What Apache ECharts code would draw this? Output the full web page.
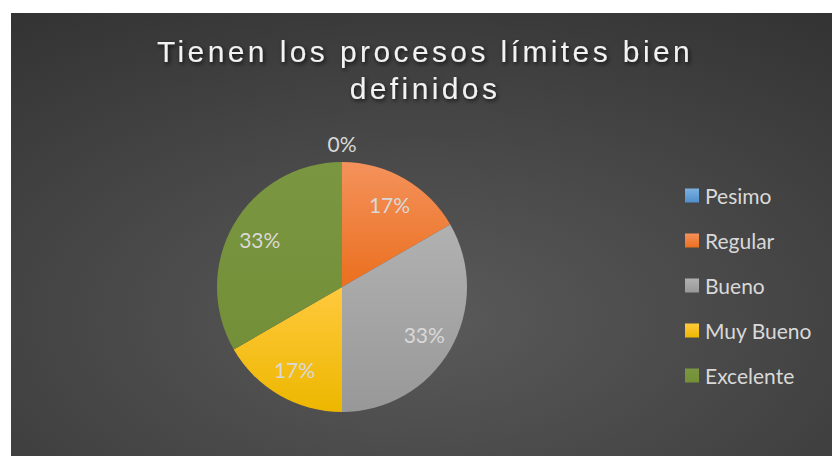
<!DOCTYPE html>
<html>
<head>
<meta charset="utf-8">
<title>Tienen los procesos límites bien definidos</title>
<script src="https://cdn.jsdelivr.net/npm/echarts@6/dist/echarts.min.js"></script>
<style>
  html, body { margin: 0; padding: 0; background: #ffffff; overflow: hidden; width: 832px; height: 456px; }
  #chart { position: absolute; left: 11px; top: 13px; width: 828px; height: 443px; }
</style>
</head>
<body>
<div id="chart"></div>
<script>
// Survey answers: how many responses fell in each rating
const categories = ['Pesimo', 'Regular', 'Bueno', 'Muy Bueno', 'Excelente'];
const responses = [0, 1, 2, 1, 2];
const titleLines = ['Tienen los procesos límites bien', 'definidos'];

// Slice fills: light at the top of each slice, deeper at the bottom
const sliceShades = [
  ['#7DB1E2', '#4F8FCB'],
  ['#F4925C', '#EB6F1E'],
  ['#B1B1B1', '#989898'],
  ['#FFC93E', '#EDB700'],
  ['#7A9640', '#738F38']
];

function vGradient(pair) {
  return {
    type: 'linear', x: 0, y: 0, x2: 0, y2: 1,
    colorStops: [{ offset: 0, color: pair[0] }, { offset: 1, color: pair[1] }]
  };
}

const labelFont = 'Lato, "Noto Sans", sans-serif';
const labelColor = '#D9D9D9';
const pieCenter = [331, 274];
const pieRadius = 125;

function pctText(p) { return Math.round(p.percent) + '%'; }

const sliceData = categories.map((name, i) => ({
  name: name,
  value: responses[i],
  itemStyle: { color: vGradient(sliceShades[i]) },
  // an empty slice gets its label just above the rim
  label: { show: responses[i] === 0 }
}));

const labelData = categories.map((name, i) => ({
  name: name,
  value: responses[i],
  label: { show: responses[i] !== 0 }
}));

const chart = echarts.init(document.getElementById('chart'), null, { renderer: 'svg' });

chart.setOption({
  animation: false,
  backgroundColor: {
    type: 'radial', x: 0.494, y: 0.69, r: 1.17,
    colorStops: [{ offset: 0, color: '#5A5A5A' }, { offset: 1, color: '#242424' }]
  },
  title: {
    text: titleLines.join('\n'),
    left: 414,
    top: 20,
    padding: 0,
    textAlign: 'center',
    textStyle: {
      fontFamily: '"Liberation Sans", Arial, sans-serif',
      fontSize: 30,
      fontWeight: 'normal',
      lineHeight: 37,
      color: '#F2F2F2',
      textShadowColor: 'rgba(0,0,0,0.75)',
      textShadowBlur: 4,
      textShadowOffsetX: 1.5,
      textShadowOffsetY: 2
    }
  },
  legend: {
    orient: 'vertical',
    left: 674,
    top: 172,
    padding: 0,
    itemGap: 24,
    itemWidth: 14,
    itemHeight: 14,
    icon: 'rect',
    data: categories,
    selectedMode: false,
    textStyle: {
      fontFamily: labelFont,
      fontSize: 21,
      lineHeight: 20,
      color: labelColor,
      padding: [0, 0, 0, 1]
    }
  },
  series: [
    {
      name: 'slices',
      type: 'pie',
      center: pieCenter,
      radius: pieRadius,
      startAngle: 90,
      clockwise: true,
      silent: true,
      avoidLabelOverlap: false,
      itemStyle: { borderWidth: 0 },
      label: {
        position: 'outside',
        formatter: pctText,
        distanceToLabelLine: 0,
        fontFamily: labelFont,
        fontSize: 21,
        color: labelColor
      },
      labelLine: { show: false, length: 19, length2: 0 },
      labelLayout: function () { return { align: 'center' }; },
      data: sliceData
    },
    {
      name: 'labels',
      type: 'pie',
      center: pieCenter,
      radius: [86, 98],
      startAngle: 90,
      clockwise: true,
      silent: true,
      z: 5,
      itemStyle: { color: 'rgba(0,0,0,0)', borderWidth: 0 },
      label: {
        position: 'inside',
        formatter: pctText,
        fontFamily: labelFont,
        fontSize: 21,
        color: labelColor
      },
      labelLine: { show: false },
      data: labelData
    }
  ]
});

// Open up the title lettering a little
function spaceTitle() {
  document.querySelectorAll('#chart text').forEach(function (t) {
    if (titleLines.indexOf(t.textContent) !== -1) {
      t.setAttribute('letter-spacing', '3.4px');
    }
  });
}
spaceTitle();
chart.on('finished', spaceTitle);
</script>
</body>
</html>
